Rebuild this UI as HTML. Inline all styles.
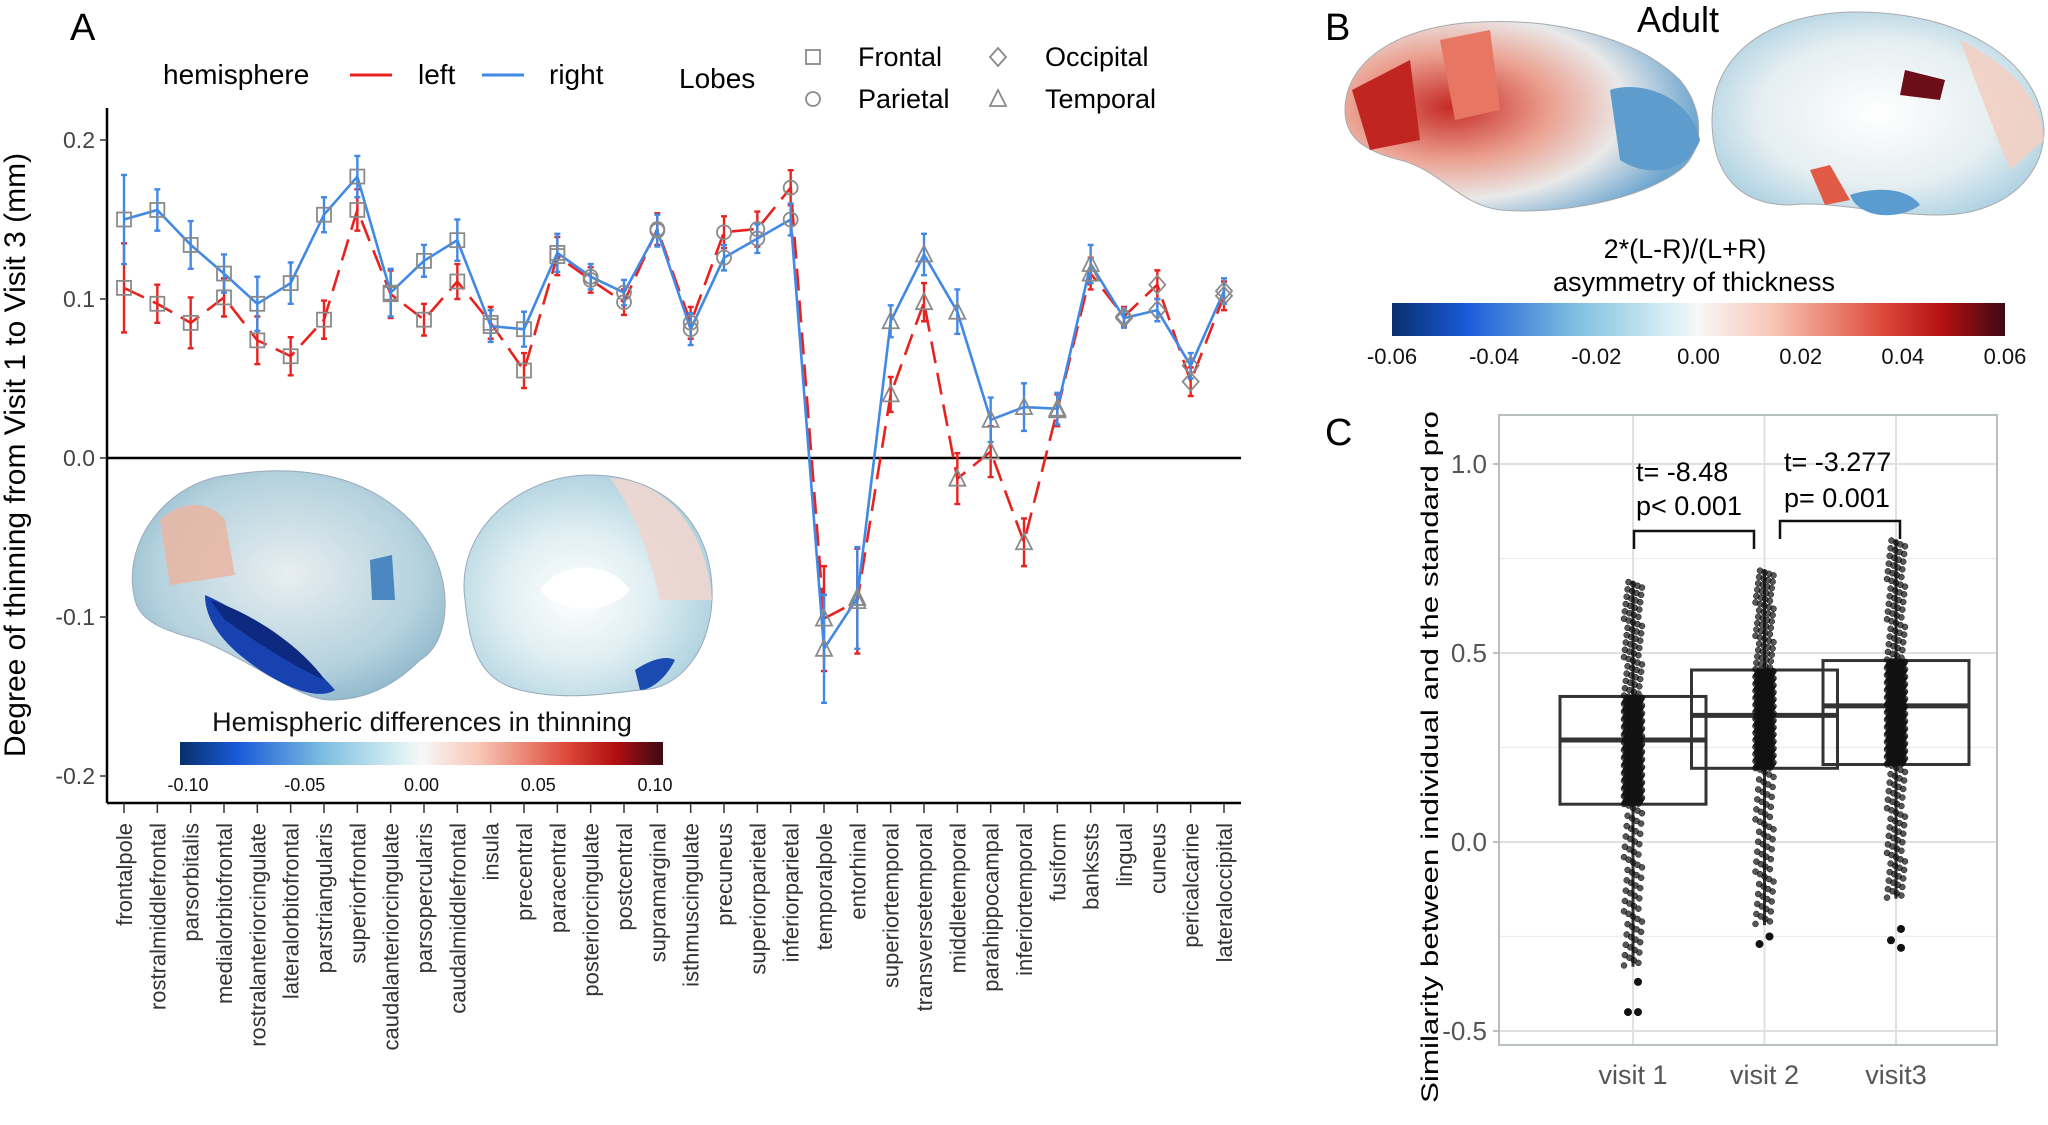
<!DOCTYPE html>
<html><head><meta charset="utf-8"><style>
html,body{margin:0;padding:0;background:#fff;}
svg{display:block;font-family:"Liberation Sans",sans-serif;}
</style></head><body>
<svg id="fig" width="2048" height="1125" viewBox="0 0 2048 1125" xmlns="http://www.w3.org/2000/svg">
<defs>
<linearGradient id="cbA" x1="0" x2="1" y1="0" y2="0">
<stop offset="0" stop-color="#08306b"/><stop offset="0.12" stop-color="#1a5ad8"/><stop offset="0.3" stop-color="#7fbfe0"/><stop offset="0.45" stop-color="#d6eef3"/><stop offset="0.5" stop-color="#f7f7f7"/><stop offset="0.62" stop-color="#f8c6b6"/><stop offset="0.8" stop-color="#dd4a3a"/><stop offset="0.9" stop-color="#b30f12"/><stop offset="1" stop-color="#3d0a14"/>
</linearGradient>
<radialGradient id="brainL" cx="0.5" cy="0.45" r="0.6"><stop offset="0" stop-color="#e8eef0"/><stop offset="0.7" stop-color="#b5d2de"/><stop offset="1" stop-color="#8eb7cb"/></radialGradient>
<radialGradient id="brainM" cx="0.45" cy="0.55" r="0.6"><stop offset="0" stop-color="#ffffff"/><stop offset="0.5" stop-color="#dfeef2"/><stop offset="1" stop-color="#a9cfdd"/></radialGradient>
<radialGradient id="brainBL" cx="0.3" cy="0.45" r="0.7"><stop offset="0" stop-color="#c52a26"/><stop offset="0.4" stop-color="#eba090"/><stop offset="0.7" stop-color="#e9e9e9"/><stop offset="1" stop-color="#6ea6cf"/></radialGradient>
<radialGradient id="brainBM" cx="0.5" cy="0.5" r="0.6"><stop offset="0" stop-color="#ffffff"/><stop offset="0.6" stop-color="#e5eef1"/><stop offset="1" stop-color="#a5cde0"/></radialGradient>
</defs>
<g id="panelA"></g>
<g id="panelB"></g>
<g id="panelC"></g>
</svg>
<script>
// ---------- Panel A data ----------
var regions=["frontalpole","rostralmiddlefrontal","parsorbitalis","medialorbitofrontal","rostralanteriorcingulate","lateralorbitofrontal","parstriangularis","superiorfrontal","caudalanteriorcingulate","parsopercularis","caudalmiddlefrontal","insula","precentral","paracentral","posteriorcingulate","postcentral","supramarginal","isthmuscingulate","precuneus","superiorparietal","inferiorparietal","temporalpole","entorhinal","superiortemporal","transversetemporal","middletemporal","parahippocampal","inferiortemporal","fusiform","bankssts","lingual","cuneus","pericalcarine","lateraloccipital"];
var rightVals=[0.150,0.156,0.134,0.116,0.097,0.110,0.153,0.177,0.104,0.124,0.137,0.083,0.081,0.129,0.114,0.104,0.143,0.081,0.126,0.138,0.150,-0.120,-0.088,0.086,0.128,0.092,0.024,0.032,0.031,0.122,0.088,0.093,0.058,0.105];
var leftVals=[0.107,0.097,0.085,0.101,0.074,0.064,0.087,0.156,0.103,0.087,0.111,0.085,0.055,0.127,0.112,0.098,0.144,0.085,0.142,0.144,0.170,-0.101,-0.090,0.040,0.098,-0.013,0.004,-0.053,0.030,0.116,0.089,0.109,0.048,0.102];
var rightErr=[0.028,0.013,0.015,0.012,0.017,0.013,0.011,0.013,0.015,0.010,0.013,0.010,0.011,0.012,0.008,0.008,0.010,0.010,0.008,0.009,0.010,0.034,0.032,0.010,0.013,0.014,0.014,0.015,0.010,0.012,0.006,0.007,0.008,0.008];
var leftErr=[0.028,0.012,0.016,0.012,0.015,0.012,0.012,0.013,0.015,0.010,0.011,0.010,0.011,0.012,0.008,0.008,0.010,0.010,0.010,0.011,0.011,0.033,0.033,0.011,0.012,0.016,0.016,0.015,0.010,0.010,0.006,0.009,0.009,0.009];
var lobes=["F","F","F","F","F","F","F","F","F","F","F","F","F","F","P","P","P","P","P","P","P","T","T","T","T","T","T","T","T","T","O","O","O","O"];
var yTicksA=[0.2,0.1,0.0,-0.1,-0.2];
var yTickLabelsA=["0.2","0.1","0.0","-0.1","-0.2"];
var cbATicks=["-0.10","-0.05","0.00","0.05","0.10"];
var cbBTicks=["-0.06","-0.04","-0.02","0.00","0.02","0.04","0.06"];
// ---------- Panel C data ----------
var visits=["visit 1","visit 2","visit3"];
var q1=[0.10,0.195,0.205];
var med=[0.27,0.335,0.36];
var q3=[0.385,0.455,0.48];
var whLo=[-0.33,-0.22,-0.15];
var whHi=[0.69,0.72,0.80];
var outliersLo=[[-0.37,-0.45,-0.45],[-0.25,-0.27],[-0.23,-0.26,-0.28]];
var yTicksC=[1.0,0.5,0.0,-0.5];
var yTickLabelsC=["1.0","0.5","0.0","-0.5"];
var pointCounts=[420,420,420];

var NS="http://www.w3.org/2000/svg";
function mk(tag,attrs,parent,text){var e=document.createElementNS(NS,tag);for(var k in attrs)e.setAttribute(k,attrs[k]);if(text!==undefined)e.textContent=text;parent.appendChild(e);return e;}

// ---- Panel A ----
var gA=document.getElementById('panelA');
var axL=107,axR=1241,axB=803;
function yA(v){return 458-v*1590;}
function xA(i){return 124+i*(1224-124)/(regions.length-1);}

var lbl=mk('text',{x:70,y:40,'font-size':38},gA,'A');


var bi=mk('g',{},gA);

mk('path',{d:"M135,600 C120,540 170,480 230,475 C290,465 360,470 410,520 C455,565 455,640 420,660 C390,690 360,700 330,700 C300,700 250,660 200,640 C160,630 140,620 135,600Z",fill:"url(#brainL)",stroke:"#9ab",'stroke-width':1},bi);
mk('path',{d:"M160,520 C180,500 210,500 225,520 L235,575 L170,585 Z",fill:"#e7b7a6",opacity:0.9},bi);
mk('path',{d:"M205,595 C240,610 300,650 335,690 C320,700 290,690 260,670 C230,650 205,625 205,595Z",fill:"#1842b0"},bi);
mk('path',{d:"M210,600 C250,612 300,645 325,680 C300,670 260,645 225,620Z",fill:"#0d2a80"},bi);
mk('path',{d:"M370,560 L392,555 L395,600 L372,600Z",fill:"#4a86c0"},bi);
mk('path',{d:"M465,600 C455,530 520,475 590,475 C660,475 715,520 712,600 C710,650 680,690 640,690 C600,695 560,700 520,690 C480,680 470,650 465,600Z",fill:"url(#brainM)",stroke:"#9ab",'stroke-width':1},bi);
mk('path',{d:"M610,478 C660,480 705,520 712,600 L660,600 C650,560 640,520 610,478Z",fill:"#eed6cf",opacity:0.9},bi);
mk('path',{d:"M540,590 C560,560 610,560 630,590 C610,615 560,615 540,590Z",fill:"#ffffff"},bi);
mk('path',{d:"M635,670 C650,660 665,655 675,660 C665,680 650,690 640,690Z",fill:"#1b4bb0"},bi);
var t=mk('text',{x:422,y:731,'font-size':27,'text-anchor':'middle',fill:'#111'},gA,'Hemispheric differences in thinning');

var cb=mk('rect',{x:180,y:742,width:483,height:23,fill:'url(#cbA)'},gA);

cbATicks.forEach(function(s,i){var x=180+8+i*(483-16)/4;
 var tl=mk('text',{x:x,y:791,'font-size':18,'text-anchor':'middle',fill:'#111'},gA,s);
 });

var ya=mk('line',{x1:axL,y1:108,x2:axL,y2:axB,stroke:'#000','stroke-width':2.5},gA);

var xa=mk('line',{x1:axL,y1:axB,x2:axR,y2:axB,stroke:'#000','stroke-width':2.5},gA);

var zl=mk('line',{x1:axL,y1:yA(0),x2:axR,y2:yA(0),stroke:'#000','stroke-width':2.5},gA);

yTicksA.forEach(function(v,i){
 mk('line',{x1:axL-7,y1:yA(v),x2:axL,y2:yA(v),stroke:'#333','stroke-width':1.5},gA);
 var tl=mk('text',{x:axL-12,y:yA(v)+8,'font-size':23,'text-anchor':'end',fill:'#444'},gA,yTickLabelsA[i]);
 });
var yt=mk('text',{x:0,y:0,'font-size':30,'text-anchor':'middle',fill:'#000',transform:'translate(25,455) rotate(-90)'},gA,'Degree of thinning from Visit 1 to Visit 3 (mm)');

regions.forEach(function(r,i){
 mk('line',{x1:xA(i),y1:axB,x2:xA(i),y2:axB+10,stroke:'#333','stroke-width':1.5},gA);
 var tl=mk('text',{x:0,y:0,'font-size':22,'text-anchor':'end',fill:'#333',transform:'translate('+(xA(i)+8)+','+(axB+20)+') rotate(-90)'},gA,r);
 });

function series(vals,errs,color,dash,name){
 var g=mk('g',{},gA);
 
 var d=vals.map(function(v,i){return (i?'L':'M')+xA(i).toFixed(1)+','+yA(v).toFixed(1);}).join(' ');
 mk('path',{d:d,fill:'none',stroke:color,'stroke-width':2.6,'stroke-dasharray':dash},g);
 vals.forEach(function(v,i){var x=xA(i);
  var e=mk('path',{d:'M'+x+','+yA(v-errs[i])+' V'+yA(v+errs[i])+' M'+(x-3)+','+yA(v-errs[i])+' h6 M'+(x-3)+','+yA(v+errs[i])+' h6',stroke:color,'stroke-width':2.4,fill:'none'},g);
  });
 return g;}
series(leftVals,leftErr,'#e8231f','22,10','series-left');
series(rightVals,rightErr,'#4189e5','','series-right');

function marker(type,x,y,g){var s=7;var o={fill:'none',stroke:'#8a8a8a','stroke-width':1.8};var m;
 if(type==='F'){o.x=x-s;o.y=y-s;o.width=2*s;o.height=2*s;m=mk('rect',o,g);}
 else if(type==='P'){o.cx=x;o.cy=y;o.r=s;m=mk('circle',o,g);}
 else if(type==='O'){o.points=x+','+(y-s-2)+' '+(x+s+1)+','+y+' '+x+','+(y+s+2)+' '+(x-s-1)+','+y;m=mk('polygon',o,g);}
 else {o.points=x+','+(y-s-2)+' '+(x+s+1)+','+(y+s)+' '+(x-s-1)+','+(y+s);m=mk('polygon',o,g);}
 return m;}
var mg=mk('g',{},gA);
regions.forEach(function(r,i){
 var m1=marker(lobes[i],xA(i),yA(leftVals[i]),mg);
 var m2=marker(lobes[i],xA(i),yA(rightVals[i]),mg);});

var lg=mk('g',{},gA);
mk('text',{x:163,y:84,'font-size':28},lg,'hemisphere');
var l1=mk('line',{x1:350,y1:75,x2:392,y2:75,stroke:'#e8231f','stroke-width':3},lg);
mk('text',{x:418,y:84,'font-size':28},lg,'left');
var l2=mk('line',{x1:482,y1:75,x2:524,y2:75,stroke:'#4189e5','stroke-width':3},lg);
mk('text',{x:549,y:84,'font-size':28},lg,'right');
mk('text',{x:679,y:88,'font-size':28},lg,'Lobes');
marker('F',813,57,lg);mk('text',{x:858,y:66,'font-size':27},lg,'Frontal');
marker('P',813,99,lg);mk('text',{x:858,y:108,'font-size':27},lg,'Parietal');
marker('O',998,57,lg);mk('text',{x:1045,y:66,'font-size':27},lg,'Occipital');
marker('T',998,99,lg);mk('text',{x:1045,y:108,'font-size':27},lg,'Temporal');

// ---- Panel B ----
var gB=document.getElementById('panelB');
var bl=mk('text',{x:1325,y:40,'font-size':38},gB,'B');
var ad=mk('text',{x:1678,y:32,'font-size':36,'text-anchor':'middle'},gB,'Adult');
var bb=mk('g',{},gB);
mk('path',{d:"M1345,110 C1345,60 1400,25 1480,22 C1560,18 1640,40 1680,80 C1705,110 1705,150 1680,170 C1640,200 1560,215 1500,210 C1460,205 1440,170 1400,160 C1360,150 1345,135 1345,110Z",fill:"url(#brainBL)",stroke:"#aaa",'stroke-width':1},bb);
mk('path',{d:"M1352,90 L1410,60 L1420,140 L1370,150Z",fill:"#c02522"},bb);
mk('path',{d:"M1440,40 L1490,30 L1500,110 L1455,120Z",fill:"#e77762"},bb);
mk('path',{d:"M1610,90 C1640,80 1690,95 1700,140 C1690,170 1650,180 1620,160Z",fill:"#5d9ccc"},bb);
mk('path',{d:"M1712,120 C1712,60 1760,15 1850,12 C1960,10 2040,60 2044,130 C2044,180 2000,215 1940,215 C1880,215 1830,200 1790,205 C1740,205 1712,175 1712,120Z",fill:"url(#brainBM)",stroke:"#aaa",'stroke-width':1},bb);
mk('path',{d:"M1905,70 L1945,80 L1940,100 L1900,95Z",fill:"#6b0e18"},bb);
mk('path',{d:"M1810,170 L1830,165 L1850,200 L1825,205Z",fill:"#e05a45"},bb);
mk('path',{d:"M1850,195 C1880,185 1910,190 1920,205 C1900,220 1860,220 1850,195Z",fill:"#5a9cd0"},bb);
mk('path',{d:"M1960,40 C2000,60 2040,90 2044,140 L2010,170 C1990,120 1975,80 1960,40Z",fill:"#f2cfc3",opacity:0.9},bb);
var t1=mk('text',{x:1685,y:258,'font-size':27,'text-anchor':'middle'},gB,'2*(L-R)/(L+R)');
var t2=mk('text',{x:1694,y:291,'font-size':27,'text-anchor':'middle'},gB,'asymmetry  of thickness');
var cbb=mk('rect',{x:1392,y:303,width:613,height:33,fill:'url(#cbA)'},gB);
cbBTicks.forEach(function(s,i){var x=1392+i*613/6;
 var tl=mk('text',{x:x,y:364,'font-size':22,'text-anchor':'middle',fill:'#111'},gB,s);});

// ---- Panel C ----
var gC=document.getElementById('panelC');
var cl=mk('text',{x:1325,y:445,'font-size':38},gC,'C');
var pL=1499,pR=1997,pT=415,pB=1045;
function yC(v){return 842-v*378;}
function xC(i){return 1633+i*131.5;}
[0.75,0.25,-0.25].forEach(function(v){mk('line',{x1:pL,y1:yC(v),x2:pR,y2:yC(v),stroke:'#ececec','stroke-width':1.2},gC);});
yTicksC.forEach(function(v,i){mk('line',{x1:pL,y1:yC(v),x2:pR,y2:yC(v),stroke:'#e0e0e0','stroke-width':2},gC);
 mk('line',{x1:pL-6,y1:yC(v),x2:pL,y2:yC(v),stroke:'#aaa','stroke-width':1.5},gC);
 var tl=mk('text',{x:pL-12,y:yC(v)+9,'font-size':26,'text-anchor':'end',fill:'#555'},gC,yTickLabelsC[i]);});
visits.forEach(function(v,i){mk('line',{x1:xC(i),y1:pT,x2:xC(i),y2:pB,stroke:'#e0e0e0','stroke-width':2},gC);});
var fr=mk('rect',{x:pL,y:pT,width:pR-pL,height:pB-pT,fill:'none',stroke:'#b8bfc0','stroke-width':2},gC);
var yc=mk('text',{x:0,y:0,'font-size':24,'text-anchor':'middle',textLength:692,lengthAdjust:'spacingAndGlyphs',transform:'translate(1438,757) rotate(-90)'},gC,'Similarity between individual and the standard pro');

visits.forEach(function(v,i){
 var bw=73,x=xC(i);
 var bg=mk('g',{},gC);
 mk('rect',{x:x-bw,y:yC(q3[i]),width:2*bw,height:yC(q1[i])-yC(q3[i]),fill:'none',stroke:'#333','stroke-width':3},bg);
 mk('line',{x1:x-bw,y1:yC(med[i]),x2:x+bw,y2:yC(med[i]),stroke:'#333','stroke-width':5},bg);
 mk('line',{x1:x,y1:yC(whHi[i]),x2:x,y2:yC(q3[i]),stroke:'#333','stroke-width':3},bg);
 mk('line',{x1:x,y1:yC(q1[i]),x2:x,y2:yC(whLo[i]),stroke:'#333','stroke-width':3},bg);
 var n=pointCounts[i];
 for(var k=0;k<n;k++){var f=(k+0.5)/n;var val;
  if(f<0.15)val=whLo[i]+(q1[i]-whLo[i])*(f/0.15);
  else if(f<0.85)val=q1[i]+(q3[i]-q1[i])*((f-0.15)/0.7);
  else val=q3[i]+(whHi[i]-q3[i])*((f-0.85)/0.15);
  var jx=((k*37)%21-10)*0.9;
  mk('circle',{cx:x+jx,cy:yC(val),r:3,fill:'#111','fill-opacity':0.7,stroke:'#111','stroke-width':0.5},bg);}
 outliersLo[i].forEach(function(o,j){var c=mk('circle',{cx:x+(j%2?-5:5),cy:yC(o),r:4,fill:'#111'},bg);});
 var tl=mk('text',{x:x,y:1084,'font-size':27,'text-anchor':'middle',fill:'#555'},gC,v);});
var an=mk('g',{},gC);
mk('text',{x:1636,y:481,'font-size':27},an,'t= -8.48');
mk('text',{x:1636,y:515,'font-size':27},an,'p< 0.001');
mk('path',{d:'M1634,549 V531 H1754 V549',fill:'none',stroke:'#111','stroke-width':2.5},an);
mk('text',{x:1784,y:471,'font-size':27},an,'t= -3.277');
mk('text',{x:1784,y:507,'font-size':27},an,'p= 0.001');
mk('path',{d:'M1780,539 V521 H1900 V539',fill:'none',stroke:'#111','stroke-width':2.5},an);
</script>
</body></html>
